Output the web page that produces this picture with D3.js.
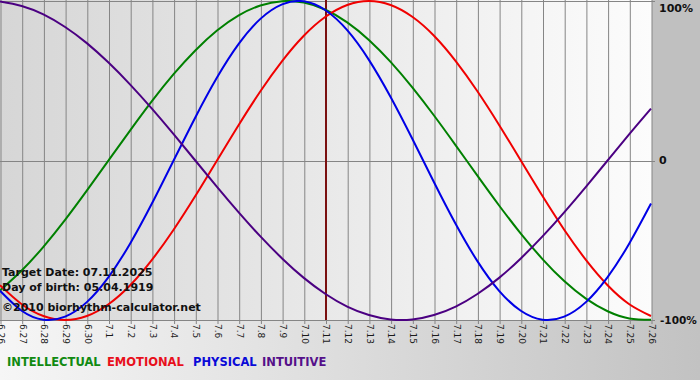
<!DOCTYPE html>
<html>
<head>
<meta charset="utf-8">
<script src="https://cdn.jsdelivr.net/npm/d3@7"></script>
<style>
  html, body { margin: 0; padding: 0; background: #ececec; }
  svg { display: block; }
</style>
</head>
<body>
<svg id="chart" width="700" height="380"></svg>
<script>
/* ---- data ------------------------------------------------------- */
const days = ["6.26","6.27","6.28","6.29","6.30","7.1","7.2","7.3","7.4","7.5",
  "7.6","7.7","7.8","7.9","7.10","7.11","7.12","7.13","7.14","7.15","7.16",
  "7.17","7.18","7.19","7.20","7.21","7.22","7.23","7.24","7.25","7.26"];

const intellectual = [-0.815,-0.690,-0.541,-0.372,-0.189,0,0.189,0.372,0.541,0.690,
  0.815,0.910,0.972,0.999,0.990,0.945,0.866,0.756,0.618,0.458,0.282,
  0.095,-0.095,-0.282,-0.458,-0.618,-0.756,-0.866,-0.945,-0.990,-0.999];

const emotional = [-0.782,-0.901,-0.975,-1,-0.975,-0.901,-0.782,-0.623,-0.434,-0.223,
  0,0.223,0.434,0.623,0.782,0.901,0.975,1,0.975,0.901,0.782,
  0.623,0.434,0.223,0,-0.223,-0.434,-0.623,-0.782,-0.901,-0.975];

const physical = [-0.817,-0.942,-0.998,-0.979,-0.888,-0.731,-0.520,-0.270,0,0.270,
  0.520,0.731,0.888,0.979,0.998,0.942,0.817,0.631,0.398,0.136,-0.136,
  -0.398,-0.631,-0.817,-0.942,-0.998,-0.979,-0.888,-0.731,-0.520,-0.270];

const intuitive = [0.997,0.969,0.916,0.837,0.736,0.614,0.476,0.325,0.165,0,
  -0.165,-0.325,-0.476,-0.614,-0.736,-0.837,-0.916,-0.969,-0.997,-0.997,-0.969,
  -0.916,-0.837,-0.736,-0.614,-0.476,-0.325,-0.165,0,0.165,0.325];

const yTicks   = [1, 0, -1];
const yLabels  = ["100%", "0", "-100%"];
const targetDay = "7.11";
const infoLines = ["Target Date: 07.11.2025", "Day of birth: 05.04.1919", "\u00a92010 biorhythm-calculator.net"];

const series = [
  { name: "INTELLECTUAL", values: intellectual, colour: "#008000", text: "#118a11" },
  { name: "EMOTIONAL",    values: emotional,    colour: "#f00000", text: "#e8101c" },
  { name: "PHYSICAL",     values: physical,     colour: "#0000e6", text: "#0a0ad8" },
  { name: "INTUITIVE",    values: intuitive,    colour: "#4b0082", text: "#55108a" }
];

/* ---- layout ----------------------------------------------------- */
const W = 700, H = 380;
const plot = { left: 0, right: 651, top: 1, bottom: 320 };
const font = "'DejaVu Sans', Verdana, sans-serif";
const legendX = [7, 107, 193, 262];

const svg = d3.select("#chart");
const defs = svg.append("defs");

const bgGrad = defs.append("linearGradient").attr("id", "bg");
bgGrad.append("stop").attr("offset", "0%").attr("stop-color", "#f6f6f6");
bgGrad.append("stop").attr("offset", "100%").attr("stop-color", "#c2c2c2");

const plotGrad = defs.append("linearGradient").attr("id", "plotbg");
plotGrad.append("stop").attr("offset", "0%").attr("stop-color", "#d6d6d6");
plotGrad.append("stop").attr("offset", "100%").attr("stop-color", "#fcfcfc");

svg.append("rect").attr("width", W).attr("height", H).attr("fill", "url(#bg)");
svg.append("rect")
  .attr("x", plot.right + 1).attr("y", 0)
  .attr("width", W - plot.right - 1).attr("height", plot.bottom)
  .attr("fill", "#c0c0c0");
svg.append("rect")
  .attr("x", plot.left).attr("y", 0)
  .attr("width", plot.right - plot.left + 1).attr("height", plot.bottom)
  .attr("fill", "url(#plotbg)");

/* ---- scales ----------------------------------------------------- */
const x = d3.scalePoint(days, [plot.left, plot.right]);
const y = d3.scaleLinear([-1, 1], [plot.bottom, plot.top]);

/* ---- grid ------------------------------------------------------- */
svg.append("g")
  .attr("transform", `translate(0.5,${plot.bottom + 4})`)
  .call(d3.axisBottom(x).tickSize(-(plot.bottom + 4)).tickFormat(""))
  .call(g => g.select(".domain").remove())
  .call(g => g.selectAll("line").attr("stroke", "#858585"));

svg.append("g")
  .selectAll("line")
  .data(yTicks)
  .join("line")
    .attr("x1", 0).attr("x2", plot.right + 4)
    .attr("y1", d => Math.round(y(d)) + 0.5)
    .attr("y2", d => Math.round(y(d)) + 0.5)
    .attr("stroke", "#858585");

/* ---- x labels (rotated) ----------------------------------------- */
svg.append("g")
  .selectAll("text")
  .data(days)
  .join("text")
    .attr("transform", d => `translate(${x(d) + 1},${plot.bottom + 4}) rotate(90)`)
    .attr("dy", "0.35em")
    .attr("font-family", font)
    .attr("font-size", 9)
    .attr("fill", "#1a1a1a")
    .text(d => d);

/* ---- y labels --------------------------------------------------- */
svg.append("g")
  .selectAll("text")
  .data(yTicks)
  .join("text")
    .attr("x", (d, i) => i === 2 ? plot.right + 9 : plot.right + 8)
    .attr("y", (d, i) => i === 0 ? y(d) + 7 : y(d))
    .attr("dy", "0.35em")
    .attr("font-family", font)
    .attr("font-weight", "bold")
    .attr("font-size", (d, i) => i === 2 ? 10.5 : 11)
    .attr("fill", "#111")
    .text((d, i) => yLabels[i]);

/* ---- target date marker ----------------------------------------- */
svg.append("line")
  .attr("x1", x(targetDay) + 0.5).attr("x2", x(targetDay) + 0.5)
  .attr("y1", 0).attr("y2", plot.bottom)
  .attr("stroke", "#7a1010")
  .attr("stroke-width", 2);

/* ---- curves ----------------------------------------------------- */
const line = d3.line()
  .x((d, i) => x(days[i]))
  .y(d => y(d))
  .curve(d3.curveNatural);

svg.append("g")
  .selectAll("path")
  .data(series)
  .join("path")
    .attr("d", d => line(d.values))
    .attr("fill", "none")
    .attr("stroke", d => d.colour)
    .attr("stroke-width", 2);

/* ---- info text -------------------------------------------------- */
svg.append("g")
  .selectAll("text")
  .data(infoLines)
  .join("text")
    .attr("x", 2)
    .attr("y", (d, i) => [276, 291, 311][i])
    .attr("font-family", font)
    .attr("font-weight", "bold")
    .attr("font-size", 11)
    .attr("fill", "#111")
    .text(d => d);

/* ---- legend ----------------------------------------------------- */
svg.append("g")
  .selectAll("text")
  .data(series)
  .join("text")
    .attr("x", (d, i) => legendX[i])
    .attr("y", 366)
    .attr("font-family", font)
    .attr("font-weight", "bold")
    .attr("font-size", 11.5)
    .attr("fill", d => d.text)
    .text(d => d.name);
</script>
</body>
</html>
